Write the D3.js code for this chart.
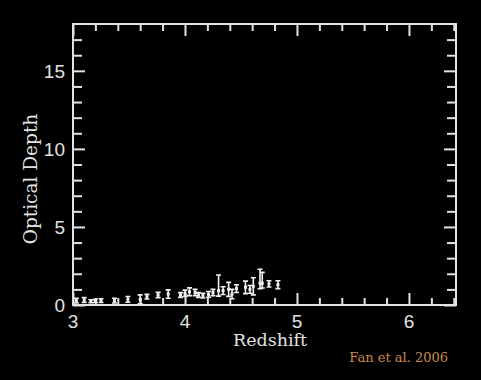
<!DOCTYPE html>
<html>
<head>
<meta charset="utf-8">
<script src="https://cdn.jsdelivr.net/npm/d3@7"></script>
<style>
  body { margin: 0; background: #000; }
  svg { display: block; }
</style>
</head>
<body>
<svg id="chart" width="481" height="380"></svg>
<script>
// Fan et al. 2006 effective optical depth vs redshift
const redshift = [3.03, 3.10, 3.16, 3.20, 3.25, 3.37, 3.49, 3.60, 3.66, 3.76, 3.85, 3.96, 4.00, 4.04, 4.09, 4.12, 4.16, 4.21, 4.25, 4.30, 4.34, 4.39, 4.42, 4.46, 4.54, 4.58, 4.61, 4.67, 4.69, 4.75, 4.83];
const depth    = [0.28, 0.32, 0.24, 0.26, 0.28, 0.28, 0.36, 0.36, 0.53, 0.64, 0.70, 0.64, 0.75, 0.85, 0.80, 0.64, 0.60, 0.68, 0.80, 0.92, 0.92, 1.00, 0.70, 1.05, 1.13, 1.00, 1.20, 1.39, 1.39, 1.35, 1.30];
const errUp    = [0.15, 0.15, 0.10, 0.10, 0.12, 0.15, 0.18, 0.29, 0.15, 0.17, 0.27, 0.15, 0.20, 0.25, 0.20, 0.15, 0.15, 0.18, 0.20, 1.00, 0.25, 0.45, 0.30, 0.25, 0.40, 0.25, 0.55, 0.90, 0.70, 0.20, 0.25];
const errDown  = [0.15, 0.15, 0.10, 0.10, 0.12, 0.15, 0.18, 0.29, 0.15, 0.17, 0.27, 0.15, 0.20, 0.25, 0.20, 0.15, 0.15, 0.18, 0.20, 0.35, 0.25, 0.45, 0.30, 0.25, 0.40, 0.25, 0.55, 0.35, 0.30, 0.20, 0.25];

const xMajor = [3, 4, 5, 6];
const yMajor = [0, 5, 10, 15];

const plotLeft = 73, plotRight = 456, plotTop = 24, plotBottom = 305;
const svg = d3.select('#chart');

let xScale = d3.scaleLinear().domain([3, 6.42]).range([plotLeft, plotRight]);
let yScale = d3.scaleLinear().domain([0, 18]).range([plotBottom, plotTop]);

const fg = '#e2e2e2';

// frame
svg.append('rect')
  .attr('x', plotLeft).attr('y', plotTop)
  .attr('width', plotRight - plotLeft).attr('height', plotBottom - plotTop)
  .attr('fill', 'none').attr('stroke', fg).attr('stroke-width', 2);

// inward ticks on all four sides
const xMinor = d3.range(3.2, 6.41, 0.2).filter(v => !xMajor.some(m => Math.abs(m - v) < 1e-6));
const yMinor = d3.range(1, 18, 1).filter(v => v % 5 !== 0);

function ticks(axis, pos, values, size) {
  svg.append('g')
    .attr('transform', pos)
    .call(axis.tickValues(values).tickSize(size).tickFormat(''))
    .call(g => g.select('.domain').remove());
}

ticks(d3.axisTop(xScale), `translate(0, ${plotBottom})`, xMajor, 12);
ticks(d3.axisTop(xScale), `translate(0, ${plotBottom})`, xMinor, 7);
ticks(d3.axisBottom(xScale), `translate(0, ${plotTop})`, xMajor, 12);
ticks(d3.axisBottom(xScale), `translate(0, ${plotTop})`, xMinor, 7);
ticks(d3.axisRight(yScale), `translate(${plotLeft}, 0)`, yMajor, 12);
ticks(d3.axisRight(yScale), `translate(${plotLeft}, 0)`, yMinor, 9);
ticks(d3.axisLeft(yScale), `translate(${plotRight}, 0)`, yMajor, 12);
ticks(d3.axisLeft(yScale), `translate(${plotRight}, 0)`, yMinor, 9);

svg.selectAll('.tick line').attr('stroke', fg).attr('stroke-width', 2);

// tick labels
svg.selectAll('.xlab')
  .data(xMajor)
  .enter()
  .append('text')
  .attr('x', d => xScale(d))
  .attr('y', 328)
  .attr('text-anchor', 'middle')
  .attr('fill', fg)
  .attr('font-family', 'Liberation Sans, Arial, sans-serif')
  .attr('font-size', 19)
  .text(d => d);

svg.selectAll('.ylab')
  .data(yMajor)
  .enter()
  .append('text')
  .attr('x', 65)
  .attr('y', d => yScale(d) + 7)
  .attr('text-anchor', 'end')
  .attr('fill', fg)
  .attr('font-family', 'Liberation Sans, Arial, sans-serif')
  .attr('font-size', 19)
  .text(d => d);

// axis titles
svg.append('text')
  .attr('x', 270).attr('y', 346)
  .attr('text-anchor', 'middle')
  .attr('fill', fg)
  .attr('font-family', 'DejaVu Serif, serif')
  .attr('font-size', 17.5)
  .text('Redshift');

svg.append('text')
  .attr('transform', 'translate(37, 179) rotate(-90)')
  .attr('text-anchor', 'middle')
  .attr('fill', fg)
  .attr('font-family', 'DejaVu Serif, serif')
  .attr('font-size', 18.5)
  .text('Optical Depth');

svg.append('text')
  .attr('x', 448).attr('y', 362)
  .attr('text-anchor', 'end')
  .attr('fill', '#c98a4b')
  .attr('font-family', 'DejaVu Serif, serif')
  .attr('font-size', 13)
  .text('Fan et al. 2006');

// data with error bars
const pts = redshift.map((z, i) => ({ z: z, t: depth[i], up: errUp[i], dn: errDown[i] }));
const cap = 2.5;
const marks = svg.append('g').attr('stroke', '#f2f2f2').attr('stroke-width', 1.6);

marks.selectAll('.bar')
  .data(pts)
  .enter()
  .append('path')
  .attr('fill', 'none')
  .attr('d', d => {
    const x = xScale(d.z), y1 = yScale(d.t + d.up), y0 = yScale(Math.max(0, d.t - d.dn));
    return `M${x},${y0}V${y1}M${x - cap},${y1}H${x + cap}M${x - cap},${y0}H${x + cap}`;
  });

marks.selectAll('.pt')
  .data(pts)
  .enter()
  .append('rect')
  .attr('x', d => xScale(d.z) - 1.5)
  .attr('y', d => yScale(d.t) - 1.5)
  .attr('width', 3)
  .attr('height', 3)
  .attr('fill', '#f2f2f2')
  .attr('stroke', 'none');
</script>
</body>
</html>
